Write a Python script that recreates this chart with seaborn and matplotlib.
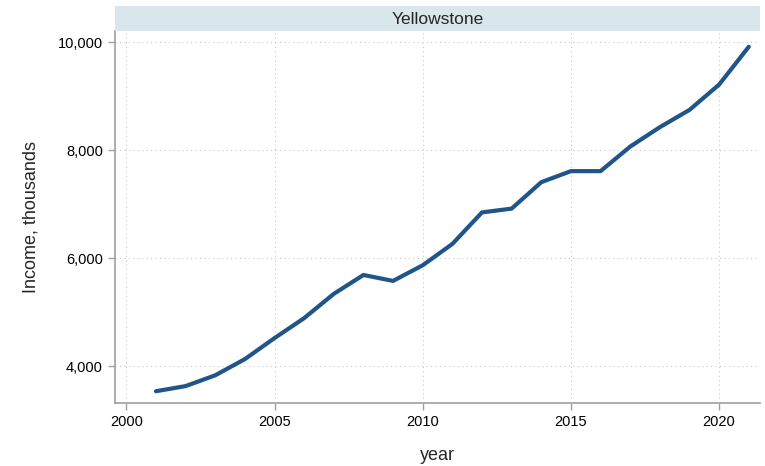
import pandas as pd
import matplotlib.pyplot as plt
import seaborn as sns
from matplotlib.ticker import FuncFormatter

# values
years = list(range(2001, 2022))
income = [3535, 3630, 3830, 4130, 4520, 4890, 5340, 5690, 5580, 5870,
          6265, 6850, 6920, 7410, 7615, 7615, 8070, 8430, 8750, 9220, 9920]
panel = "Yellowstone"
x_ticks = [2000, 2005, 2010, 2015, 2020]
y_ticks = [4000, 6000, 8000, 10000]

df = pd.DataFrame({"year": years, "income": income})

sns.set_theme(style="white")
plt.rcParams['font.family'] = ['Liberation Sans', 'DejaVu Sans']

fig = plt.figure(figsize=(7.65, 4.66), dpi=100)
ax = fig.add_axes([0.150, 0.135, 0.8435, 0.7985])
strip = fig.add_axes([0.150, 0.9335, 0.8435, 0.0536])

sns.lineplot(data=df, x="year", y="income", ax=ax, color="#1f5589", linewidth=3)

ax.set_xlim(1999.61, 2021.38)
ax.set_ylim(3315, 10213)
ax.set_xticks(x_ticks)
ax.set_yticks(y_ticks)
ax.yaxis.set_major_formatter(FuncFormatter(lambda v, p: f"{int(v):,}"))
ax.grid(True, linestyle=(0, (1, 3)), color="#c8c8c8", linewidth=0.8)
for s in ["top", "right"]:
    ax.spines[s].set_visible(False)
for s in ["left", "bottom"]:
    ax.spines[s].set_color("#a0a0a0")
    ax.spines[s].set_linewidth(1.2)
ax.tick_params(axis="both", direction="out", length=5, width=1, color="#a0a0a0",
               labelsize=10.5, labelcolor="black", bottom=True, left=True)
ax.set_xlabel("year", fontsize=13, labelpad=13)
ax.set_ylabel("Income, thousands", fontsize=13, labelpad=13)

strip.set_facecolor("#d9e6ec")
strip.set_xticks([])
strip.set_yticks([])
for s in strip.spines.values():
    s.set_visible(False)
strip.text(0.5, 0.45, panel, ha="center", va="center", fontsize=12.5, transform=strip.transAxes)

fig.savefig("out.png", dpi=100)
